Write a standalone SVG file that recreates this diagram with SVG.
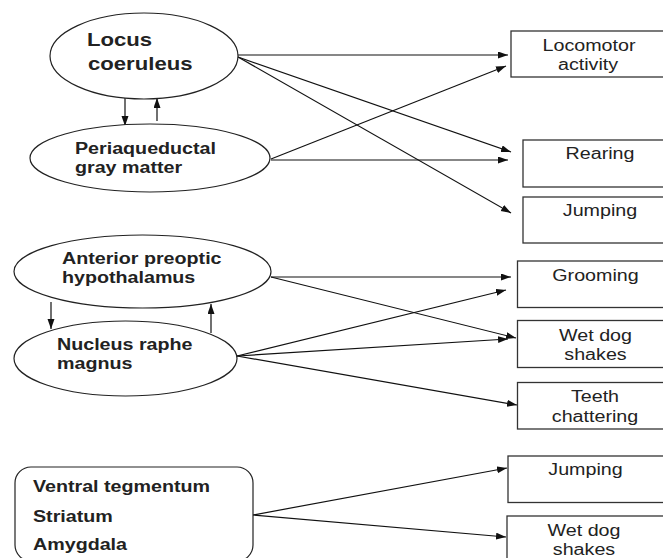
<svg xmlns="http://www.w3.org/2000/svg" width="663" height="558" viewBox="0 0 663 558">
<style>
.shape{fill:#fff;stroke:#222;stroke-width:1.2}
.box{fill:#fff;stroke:#333;stroke-width:1.3}
.b{font-family:"Liberation Sans",Arial,sans-serif;font-weight:bold;font-size:16px;fill:#222}
.r{font-family:"Liberation Sans",Arial,sans-serif;font-size:16px;fill:#222;text-anchor:middle}
.c{fill:none;stroke:#111;stroke-width:1.2}
</style>
<defs>
<marker id="ah" markerUnits="userSpaceOnUse" markerWidth="11" markerHeight="8" refX="10" refY="3.5" orient="auto">
<path d="M0,0 L10,3.5 L0,7 z" fill="#111"/>
</marker>
<clipPath id="tclip"><rect x="517" y="382" width="160" height="43"/></clipPath>
</defs>

<g id="connectors">
<line class="c" x1="238" y1="55" x2="508" y2="55" marker-end="url(#ah)"/>
<line class="c" x1="271" y1="159" x2="506" y2="66" marker-end="url(#ah)"/>
<line class="c" x1="238" y1="57" x2="511" y2="152" marker-end="url(#ah)"/>
<line class="c" x1="271" y1="160" x2="508" y2="160" marker-end="url(#ah)"/>
<line class="c" x1="238" y1="57" x2="511" y2="213" marker-end="url(#ah)"/>
<line class="c" x1="125" y1="97" x2="125" y2="126" marker-end="url(#ah)"/>
<line class="c" x1="157" y1="121" x2="157" y2="98" marker-end="url(#ah)"/>
<line class="c" x1="271" y1="277" x2="511" y2="277" marker-end="url(#ah)"/>
<line class="c" x1="271" y1="277" x2="516" y2="338" marker-end="url(#ah)"/>
<line class="c" x1="237" y1="356" x2="506" y2="290" marker-end="url(#ah)"/>
<line class="c" x1="237" y1="356" x2="508" y2="339" marker-end="url(#ah)"/>
<line class="c" x1="237" y1="356" x2="517" y2="405" marker-end="url(#ah)"/>
<line class="c" x1="51" y1="302" x2="51" y2="329" marker-end="url(#ah)"/>
<line class="c" x1="211" y1="333" x2="211" y2="304" marker-end="url(#ah)"/>
<line class="c" x1="253" y1="515" x2="507" y2="468" marker-end="url(#ah)"/>
<line class="c" x1="253" y1="515" x2="506" y2="537" marker-end="url(#ah)"/>
</g>

<g id="locus-coeruleus">
<ellipse class="shape" cx="144" cy="56" rx="94" ry="43"/>
<text class="b" style="font-size:18px" transform="translate(87,46) scale(1.23,1)">Locus</text>
<text class="b" style="font-size:18px" transform="translate(88,70) scale(1.23,1)">coeruleus</text>
</g>

<g id="periaqueductal">
<ellipse class="shape" cx="150" cy="158" rx="120" ry="34"/>
<text class="b" transform="translate(75,154) scale(1.23,1)">Periaqueductal</text>
<text class="b" transform="translate(75,173) scale(1.23,1)">gray matter</text>
</g>

<g id="anterior-preoptic">
<ellipse class="shape" cx="142.5" cy="271.5" rx="128.5" ry="36.5"/>
<text class="b" transform="translate(62,264) scale(1.23,1)">Anterior preoptic</text>
<text class="b" transform="translate(62,283) scale(1.23,1)">hypothalamus</text>
</g>

<g id="nucleus-raphe">
<ellipse class="shape" cx="125.5" cy="358.5" rx="111.5" ry="37.5"/>
<text class="b" transform="translate(57,350) scale(1.23,1)">Nucleus raphe</text>
<text class="b" transform="translate(57,369) scale(1.23,1)">magnus</text>
</g>

<g id="ventral-group">
<rect class="shape" x="15" y="467" width="238" height="94" rx="16" ry="16"/>
<text class="b" transform="translate(33,492) scale(1.23,1)">Ventral tegmentum</text>
<text class="b" transform="translate(33,522) scale(1.23,1)">Striatum</text>
<text class="b" transform="translate(33,550) scale(1.23,1)">Amygdala</text>
</g>

<g id="locomotor">
<rect class="box" x="511" y="31" width="160" height="46"/>
<text class="r" transform="translate(589,51) scale(1.23,1)">Locomotor</text>
<text class="r" transform="translate(588,70) scale(1.23,1)">activity</text>
</g>

<g id="rearing">
<rect class="box" x="523" y="140" width="160" height="47"/>
<text class="r" transform="translate(600,159) scale(1.23,1)">Rearing</text>
</g>

<g id="jumping-1">
<rect class="box" x="523" y="197" width="160" height="46"/>
<text class="r" transform="translate(600,216) scale(1.23,1)">Jumping</text>
</g>

<g id="grooming">
<rect class="box" x="517.5" y="261" width="160" height="46.5"/>
<text class="r" transform="translate(595.5,281) scale(1.23,1)">Grooming</text>
</g>

<g id="wet-dog-1">
<rect class="box" x="517.5" y="320.5" width="160" height="47"/>
<text class="r" transform="translate(595.5,341) scale(1.23,1)">Wet dog</text>
<text class="r" transform="translate(595.5,360) scale(1.23,1)">shakes</text>
</g>

<g id="teeth">
<rect class="box" x="517.5" y="382.5" width="160" height="46.5"/>
<g clip-path="url(#tclip)">
<text class="r" transform="translate(595,402) scale(1.23,1)">Teeth</text>
<text class="r" transform="translate(595,422) scale(1.23,1)">chattering</text>
</g>
</g>

<g id="jumping-2">
<rect class="box" x="508" y="456" width="160" height="46.5"/>
<text class="r" transform="translate(585.5,475) scale(1.23,1)">Jumping</text>
</g>

<g id="wet-dog-2">
<rect class="box" x="507" y="516" width="160" height="50"/>
<text class="r" transform="translate(584,536) scale(1.23,1)">Wet dog</text>
<text class="r" transform="translate(584,555) scale(1.23,1)">shakes</text>
</g>
</svg>
